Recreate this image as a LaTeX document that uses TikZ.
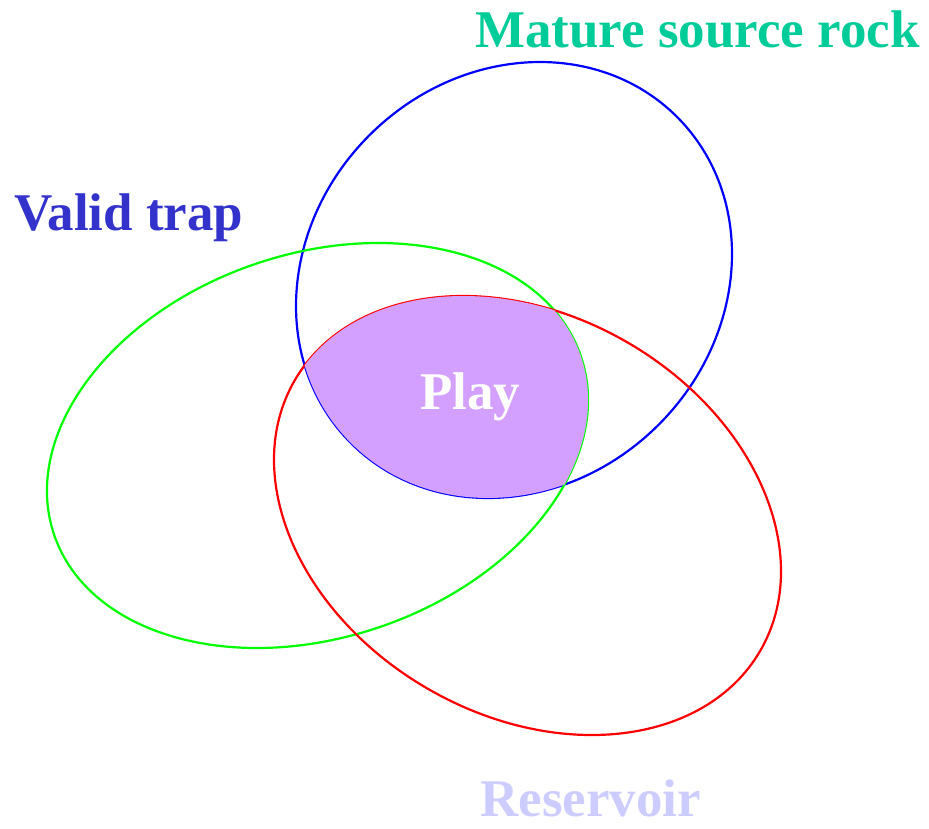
\documentclass[tikz,border=0pt]{standalone}
\usepackage{fontspec}
\setmainfont{Liberation Serif}
\definecolor{srccol}{RGB}{0,204,153}
\definecolor{trapcol}{RGB}{51,51,204}
\definecolor{rescol}{RGB}{204,204,255}
\definecolor{playcol}{RGB}{212,160,255}
\tikzset{
  outline/.style={line width=2.2pt},
  label/.style={font=\fontsize{53}{60}\selectfont\bfseries, anchor=base west, inner sep=0pt}
}
\begin{document}
\begin{tikzpicture}[x=1pt,y=1pt]
\useasboundingbox (0,0) rectangle (929,-828);
% ellipses
\draw[outline, blue, rotate around={45:(514,-280)}] (514,-280) ellipse [x radius=230.6, y radius=204.6];
\draw[outline, green, rotate around={18.7:(317.5,-445.5)}] (317.5,-445.5) ellipse [x radius=278.1, y radius=191.9];
\draw[outline, red, rotate around={-30.2:(527.5,-515.5)}] (527.5,-515.5) ellipse [x radius=269.2, y radius=199.9];
% intersection
\begin{scope}
  \clip[rotate around={45:(514,-280)}] (514,-280) ellipse [x radius=230.6, y radius=204.6];
  \clip[rotate around={18.7:(317.5,-445.5)}] (317.5,-445.5) ellipse [x radius=278.1, y radius=191.9];
  \fill[playcol, rotate around={-30.2:(527.5,-515.5)}] (527.5,-515.5) ellipse [x radius=269.2, y radius=199.9];
\end{scope}
% labels
\node[label, text=srccol] (src) at (475,-47) {Mature source rock};
\node[label, text=trapcol] (trap) at (14,-230) {Valid trap};
\node[label, text=rescol] (res) at (480,-816) {Reservoir};
\node[label, text=white] (play) at (420,-409) {Play};
\end{tikzpicture}
\end{document}
